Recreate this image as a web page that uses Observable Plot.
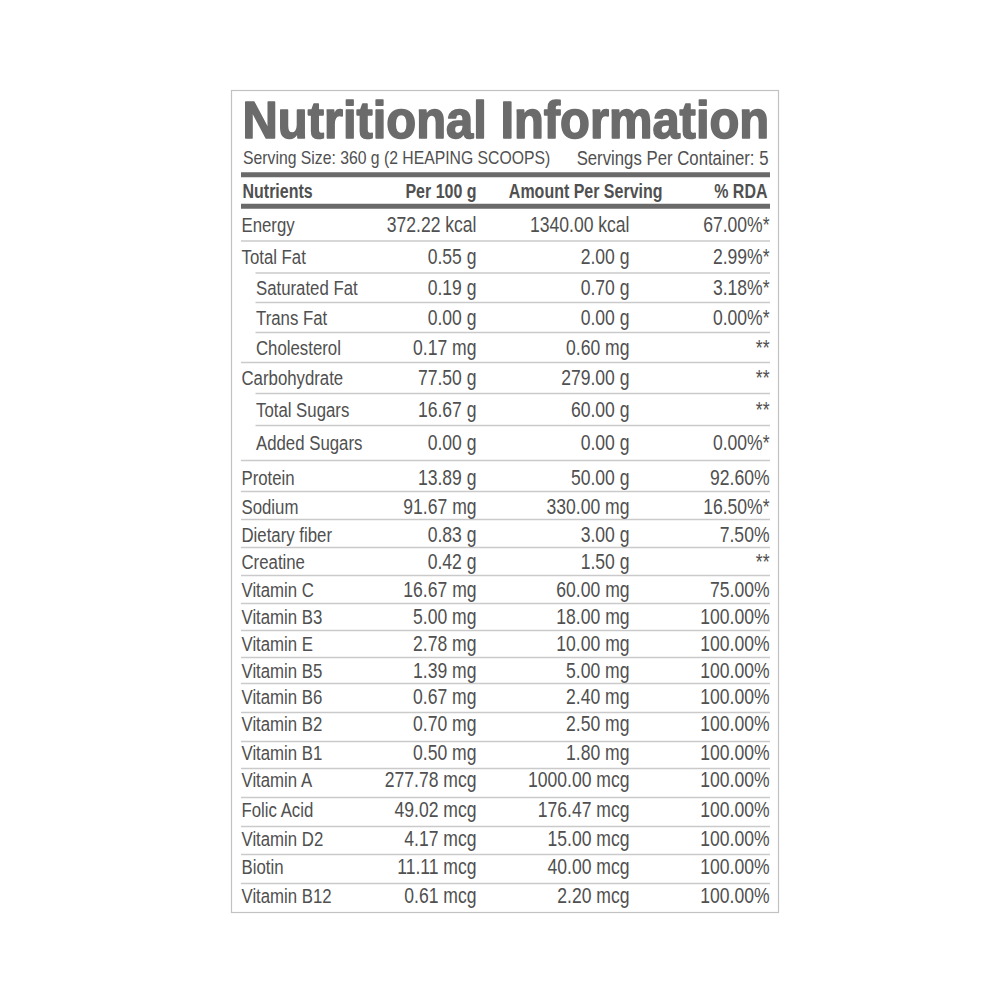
<!DOCTYPE html>
<html>
<head>
<meta charset="utf-8">
<script src="https://cdn.jsdelivr.net/npm/d3@7"></script>
<script src="https://cdn.jsdelivr.net/npm/@observablehq/plot@0.6"></script>
<style>
  html, body { margin: 0; padding: 0; background: #ffffff; }
  #chart { width: 1000px; height: 1000px; }
</style>
</head>
<body>
<div id="chart"></div>
<script>
// ---------------- DATA ----------------
const title = "Nutritional Information";
const servingSize = "Serving Size: 360 g (2 HEAPING SCOOPS)";
const servingsPerContainer = "Servings Per Container: 5";
const columnHeaders = ["Nutrients", "Per 100 g", "Amount Per Serving", "% RDA"];

const nutrients = [
  "Energy", "Total Fat", "Saturated Fat", "Trans Fat", "Cholesterol",
  "Carbohydrate", "Total Sugars", "Added Sugars", "Protein", "Sodium",
  "Dietary fiber", "Creatine", "Vitamin C", "Vitamin B3", "Vitamin E",
  "Vitamin B5", "Vitamin B6", "Vitamin B2", "Vitamin B1", "Vitamin A",
  "Folic Acid", "Vitamin D2", "Biotin", "Vitamin B12"
];
const subItems = ["Saturated Fat", "Trans Fat", "Cholesterol", "Total Sugars", "Added Sugars"];
const units = [
  "kcal", "g", "g", "g", "mg",
  "g", "g", "g", "g", "mg",
  "g", "g", "mg", "mg", "mg",
  "mg", "mg", "mg", "mg", "mcg",
  "mcg", "mcg", "mcg", "mcg"
];
const per100g = [
  372.22, 0.55, 0.19, 0.00, 0.17,
  77.50, 16.67, 0.00, 13.89, 91.67,
  0.83, 0.42, 16.67, 5.00, 2.78,
  1.39, 0.67, 0.70, 0.50, 277.78,
  49.02, 4.17, 11.11, 0.61
];
const perServing = [
  1340.00, 2.00, 0.70, 0.00, 0.60,
  279.00, 60.00, 0.00, 50.00, 330.00,
  3.00, 1.50, 60.00, 18.00, 10.00,
  5.00, 2.40, 2.50, 1.80, 1000.00,
  176.47, 15.00, 40.00, 2.20
];
const rdaPercent = [
  67.00, 2.99, 3.18, 0.00, null,
  null, null, 0.00, 92.60, 16.50,
  7.50, null, 75.00, 100.00, 100.00,
  100.00, 100.00, 100.00, 100.00, 100.00,
  100.00, 100.00, 100.00, 100.00
];
const rdaNote = [
  "*", "*", "*", "*", "**",
  "**", "**", "*", "", "*",
  "", "**", "", "", "",
  "", "", "", "", "",
  "", "", "", ""
];

// ---------------- LAYOUT ----------------
const L = {
  boxLeft: 231.5, boxRight: 778.5, boxTop: 90.5, boxBottom: 912.5,
  left: 241, indentLeft: 255.5, right: 770,
  per100Right: 476, servingRight: 629, servingHeadRight: 662, rdaRight: 769, rdaHeadRight: 767,
  titleY: 120.7, subtitleY: 157.9, headerY: 190.7,
  bar1Y: 174.2, bar2Y: 205.8, barWidth: 5,
  tableTop: 208.5
};
const rowHeights = [32, 32, 29.5, 30, 30, 31, 32, 35, 31, 28, 28, 28, 28, 27, 27, 26, 29, 29, 27, 29, 29, 28, 29, 29];
const rowTextShift = [0, 0, 0, 0, 0, 0, 0, 0, 1.5, 1, 1.5, 0, 0, 0, 0, 0, -1, -3, -2.5, -3, -2.5, -2, -2, -2.5];

const titleColor = "#6b6b6b";
const textColor = "#505050";
const barColor = "#6a6a6a";
const sepColor = "#cacaca";
const borderColor = "#c2c2c2";
const font = "'Liberation Sans', Arial, Helvetica, sans-serif";

// ---------------- BUILD ----------------
const fmt = v => v.toFixed(2);
const edges = [L.tableTop];
rowHeights.forEach(h => edges.push(edges[edges.length - 1] + h));

const rows = nutrients.map((name, i) => ({
  name,
  indent: subItems.includes(name),
  p100: `${fmt(per100g[i])} ${units[i]}`,
  serv: `${fmt(perServing[i])} ${units[i]}`,
  rda: (rdaPercent[i] == null ? "" : `${fmt(rdaPercent[i])}%`) + rdaNote[i],
  ym: (edges[i] + edges[i + 1]) / 2 + 0.5 + rowTextShift[i]
}));

const separators = rows.slice(1).map((r, i) => ({
  y: edges[i + 1],
  x1: r.indent ? L.indentLeft : L.left,
  x2: L.right
}));

const bars = [{y: L.bar1Y}, {y: L.bar2Y}];
const headerRightX = [L.per100Right, L.servingHeadRight, L.rdaHeadRight];
const headersRight = columnHeaders.slice(1).map((t, i) => ({t, x: headerRightX[i]}));

const plot = Plot.plot({
  width: 1000,
  height: 1000,
  margin: 0,
  x: {type: "linear", domain: [0, 1000], range: [0, 1000], axis: null},
  y: {type: "linear", domain: [0, 1000], range: [0, 1000], axis: null},
  style: {background: "#ffffff", fontFamily: font},
  marks: [
    // outer border
    Plot.rect([{}], {x1: () => L.boxLeft, x2: () => L.boxRight, y1: () => L.boxTop, y2: () => L.boxBottom,
      fill: "none", stroke: borderColor, strokeWidth: 1.2}),
    // thick bars
    Plot.ruleY(bars, {y: "y", x1: () => L.left, x2: () => L.right, stroke: barColor, strokeWidth: L.barWidth}),
    // separators
    Plot.ruleY(separators, {y: "y", x1: "x1", x2: "x2", stroke: sepColor, strokeWidth: 1.3}),
    // title
    Plot.text([title], {x: () => L.left + 1, y: () => L.titleY, text: d => d, textAnchor: "start",
      fontSize: 52, fontWeight: "bold", fill: titleColor, stroke: titleColor, strokeWidth: 1.6, fontFamily: font}),
    // subtitle
    Plot.text([servingSize], {x: () => L.left + 1.5, y: () => L.subtitleY, text: d => d, textAnchor: "start",
      fontSize: 19, fill: textColor, fontFamily: font}),
    Plot.text([servingsPerContainer], {x: () => L.rdaRight - 1, y: () => L.subtitleY, text: d => d, textAnchor: "end",
      fontSize: 19.5, fill: textColor, fontFamily: font}),
    // header
    Plot.text([columnHeaders[0]], {x: () => L.left + 1, y: () => L.headerY, text: d => d, textAnchor: "start",
      fontSize: 20.5, fontWeight: "bold", fill: textColor, fontFamily: font}),
    Plot.text(headersRight, {x: "x", y: () => L.headerY, text: "t", textAnchor: "end",
      fontSize: 20.5, fontWeight: "bold", fill: textColor, fontFamily: font}),
    // rows
    Plot.text(rows, {x: d => d.indent ? L.indentLeft : L.left, y: "ym", text: "name", textAnchor: "start",
      fontSize: 21, fill: textColor, fontFamily: font}),
    Plot.text(rows, {x: () => L.per100Right, y: "ym", text: "p100", textAnchor: "end",
      fontSize: 21.2, fill: textColor, fontFamily: font}),
    Plot.text(rows, {x: () => L.servingRight, y: "ym", text: "serv", textAnchor: "end",
      fontSize: 21.2, fill: textColor, fontFamily: font}),
    Plot.text(rows, {x: () => L.rdaRight, y: "ym", text: "rda", textAnchor: "end",
      fontSize: 21.2, fill: textColor, fontFamily: font})
  ]
});

// condense the type (the label uses a condensed face)
const squeeze = {"52": 0.94, "19": 0.83, "19.5": 0.86, "20.5": 0.78, "21": 0.8, "21.2": 0.828};
d3.select(plot).selectAll("text").each(function () {
  const holder = this.closest("[font-size]");
  const fs = holder ? holder.getAttribute("font-size") : null;
  const s = squeeze[fs];
  if (s == null) return;
  const t = this.getAttribute("transform") || "";
  this.setAttribute("transform", `${t} scale(${s},1)`);
});

document.getElementById("chart").appendChild(plot);
</script>
</body>
</html>
